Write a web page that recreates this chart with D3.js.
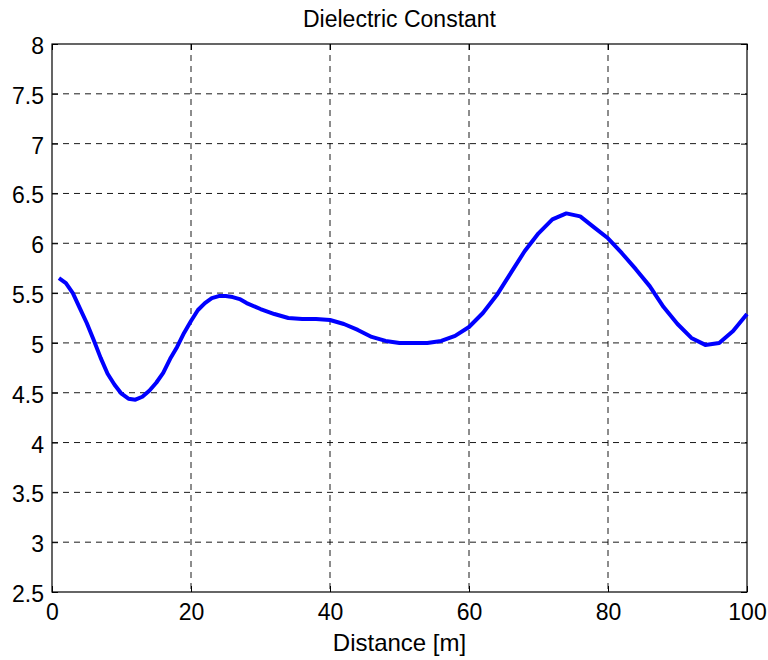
<!DOCTYPE html>
<html>
<head>
<meta charset="utf-8">
<script src="https://cdn.jsdelivr.net/npm/d3@7"></script>
<style>
  body { margin: 0; background: #fff; }
  svg { display: block; font-family: "Liberation Sans", Arial, sans-serif; }
</style>
</head>
<body>
<svg id="svg" width="768" height="660"></svg>
<script>
// data
const distance = [1, 2, 3, 4, 5, 6, 7, 8, 9, 10, 11, 12, 13, 14, 15, 16, 17, 18, 19, 20,
  21, 22, 23, 24, 25, 26, 27, 28, 30, 32, 34, 36, 38, 40, 42, 44, 46, 48, 50, 52,
  54, 56, 58, 60, 62, 64, 66, 68, 70, 72, 74, 76, 78, 80, 82, 84, 86, 88, 90, 92,
  94, 96, 98, 100];
const dielectric = [5.65, 5.60, 5.50, 5.35, 5.20, 5.03, 4.85, 4.69, 4.58, 4.49, 4.44, 4.43, 4.46, 4.52, 4.60, 4.70, 4.84, 4.96, 5.10, 5.22,
  5.33, 5.40, 5.45, 5.47, 5.47, 5.46, 5.44, 5.40, 5.34, 5.29, 5.25, 5.24, 5.24, 5.23, 5.19, 5.13, 5.06, 5.02, 5.00, 5.00,
  5.00, 5.02, 5.07, 5.16, 5.30, 5.48, 5.70, 5.92, 6.10, 6.24, 6.30, 6.27, 6.16, 6.05, 5.90, 5.74, 5.57, 5.36, 5.19, 5.05,
  4.98, 5.00, 5.12, 5.29];
const xTicks = [0, 20, 40, 60, 80, 100];
const yTicks = [2.5, 3, 3.5, 4, 4.5, 5, 5.5, 6, 6.5, 7, 7.5, 8];

const svg = d3.select('svg');
const mLeft = 52, mRight = 747, mTop = 44, mBottom = 592;
const fontSize = 23;

const x = d3.scaleLinear().domain([0, 100]).range([mLeft, mRight]);
const y = d3.scaleLinear().domain([2.5, 8]).range([mBottom, mTop]);

// grid
const grid = svg.append('g')
  .attr('stroke', '#000')
  .attr('stroke-width', 0.9)
  .attr('stroke-dasharray', '6,5');
grid.selectAll('.gx').data(xTicks.slice(1, -1)).enter().append('line')
  .attr('x1', d => x(d)).attr('x2', d => x(d))
  .attr('y1', mTop).attr('y2', mBottom);
grid.selectAll('.gy').data(yTicks.slice(1, -1)).enter().append('line')
  .attr('y1', d => y(d)).attr('y2', d => y(d))
  .attr('x1', mLeft).attr('x2', mRight);

// axes, ticks pointing inward
const tickLen = 6;
svg.append('g').attr('transform', `translate(0,${mBottom})`)
  .call(d3.axisBottom(x).tickValues(xTicks).tickSizeInner(-tickLen).tickSizeOuter(0))
  .call(g => g.selectAll('text').attr('font-size', fontSize).attr('fill', '#000').attr('y', 28).attr('dy', 0));
svg.append('g').attr('transform', `translate(${mLeft},0)`)
  .call(d3.axisLeft(y).tickValues(yTicks).tickFormat(d3.format('')).tickSizeInner(-tickLen).tickSizeOuter(0))
  .call(g => g.selectAll('text').attr('font-size', fontSize).attr('fill', '#000').attr('x', -8).attr('dy', 9.5));
svg.append('g').attr('transform', `translate(0,${mTop})`)
  .call(d3.axisTop(x).tickValues(xTicks).tickSizeInner(-tickLen).tickSizeOuter(0).tickFormat(''));
svg.append('g').attr('transform', `translate(${mRight},0)`)
  .call(d3.axisRight(y).tickValues(yTicks).tickSizeInner(-tickLen).tickSizeOuter(0).tickFormat(''));
svg.selectAll('.domain').remove();
svg.selectAll('.tick line').attr('stroke', '#000');

// box
svg.append('rect')
  .attr('x', mLeft).attr('y', mTop)
  .attr('width', mRight - mLeft).attr('height', mBottom - mTop)
  .attr('fill', 'none').attr('stroke', '#000').attr('stroke-width', 1.2);

// curve
const line = d3.line().x((d, i) => x(distance[i])).y(d => y(d));
svg.append('path')
  .datum(dielectric)
  .attr('d', line)
  .attr('fill', 'none')
  .attr('stroke', '#0000ff')
  .attr('stroke-width', 4)
  .attr('stroke-linejoin', 'round');

// labels
svg.append('text')
  .attr('x', (mLeft + mRight) / 2).attr('y', 27)
  .attr('text-anchor', 'middle').attr('font-size', fontSize)
  .text('Dielectric Constant');
svg.append('text')
  .attr('x', (mLeft + mRight) / 2).attr('y', 651)
  .attr('text-anchor', 'middle').attr('font-size', 24)
  .text('Distance [m]');
</script>
</body>
</html>
